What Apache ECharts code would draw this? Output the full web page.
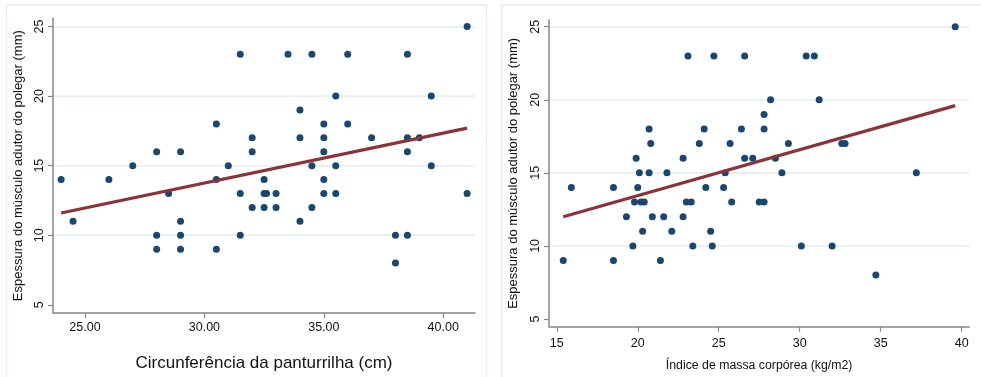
<!DOCTYPE html>
<html>
<head>
<meta charset="utf-8">
<script src="https://cdn.jsdelivr.net/npm/echarts@6/dist/echarts.min.js"></script>
<style>
    html, body { margin: 0; padding: 0; background: #fff; }
    #chart { width: 981px; height: 377px; }
</style>
</head>
<body>
<div id="chart"></div>
<script>
// circunferencia da panturrilha (cm) x espessura (mm)
var calfCirc = [24, 24.5, 26, 27, 28, 28, 28, 28.5, 29, 29, 29, 29, 30.5, 30.5, 30.5, 31, 31.5, 31.5, 31.5,
    32, 32, 32, 32.5, 32.5, 32.6, 32.5, 33, 33, 33.5, 34, 34, 34, 34.5, 34.5, 34.5, 35, 35, 35, 35, 35,
    35.5, 35.5, 35.5, 36, 36, 37, 38, 38, 38.5, 38.5, 38.5, 38.5, 39, 39.5, 39.5, 41, 41];
var calfThick = [14, 11, 14, 15, 16, 10, 9, 13, 16, 11, 10, 9, 18, 14, 9, 15, 23, 13, 10,
    17, 16, 12, 14, 13, 13, 12, 13, 12, 23, 19, 17, 11, 23, 15, 12, 18, 17, 16, 14, 13,
    20, 15, 13, 23, 18, 17, 10, 8, 23, 17, 16, 10, 17, 20, 15, 25, 13];
var calfFit = [[24, 11.6], [41, 17.7]];

// indice de massa corporea (kg/m2) x espessura (mm)
var bmiVal = [15.4, 15.9, 18.5, 18.5, 19.3, 19.7, 19.8, 19.9, 20.0, 20.1, 20.2, 20.4, 20.3, 20.7, 20.8,
    20.7, 20.9, 21.4, 21.6, 21.8, 22.1, 22.8, 22.8, 23.0, 23.3, 23.1, 23.4, 23.8, 24.1, 24.2, 24.5, 24.6,
    24.7, 25.3, 25.4, 25.7, 25.8, 26.4, 26.6, 26.6, 27.1, 27.5, 27.8, 27.8, 27.8, 28.2, 28.5, 28.9, 29.3,
    30.1, 30.4, 30.9, 31.2, 32.0, 32.6, 32.8, 34.7, 37.2, 39.6];
var bmiThick = [9, 14, 14, 9, 12, 10, 13, 16, 14, 15, 13, 13, 11, 18, 17,
    15, 12, 9, 12, 15, 11, 16, 12, 13, 13, 23, 10, 17, 18, 14, 11, 10,
    23, 14, 15, 17, 13, 18, 23, 16, 16, 13, 13, 19, 18, 20, 16, 15, 17,
    10, 23, 23, 20, 10, 17, 17, 8, 15, 25];
var bmiFit = [[15.4, 12.0], [39.6, 19.6]];

var yTicks = [5, 10, 15, 20, 25];
var calfTicks = [25, 30, 35, 40];
var bmiTicks = [15, 20, 25, 30, 35, 40];

var yName = 'Espessura do músculo adutor do polegar (mm)';
var calfName = 'Circunferência da panturrilha (cm)';
var bmiName = 'Índice de massa corpórea (kg/m2)';

var FONT = '"Liberation Sans", Arial, sans-serif';
var AXIS_COLOR = '#858585';
var GRID_COLOR = '#e3edef';
var DOT_COLOR = '#1a476f';
var FIT_COLOR = '#8a3338';

function zip(xs, ys) {
    var out = [];
    for (var i = 0; i < xs.length; ++i) {
        out.push([xs[i], ys[i]]);
    }
    return out;
}

function makeY(gridIndex, min, max, gap) {
    return {
        type: 'value',
        gridIndex: gridIndex,
        min: min,
        max: max,
        name: yName,
        nameLocation: 'middle',
        nameGap: gap,
        nameTextStyle: { fontFamily: FONT, fontSize: 13, color: '#111' },
        axisLine: { show: true, lineStyle: { color: AXIS_COLOR, width: 1.5 } },
        axisTick: { show: true, length: 5, customValues: yTicks, lineStyle: { color: AXIS_COLOR, width: 1.2 } },
        axisLabel: {
            customValues: yTicks, rotate: 90, margin: 7,
            fontFamily: FONT, fontSize: 12.5, color: '#111'
        },
        splitLine: {
            show: true,
            // no grid line at the bottom tick (5)
            lineStyle: { color: ['rgba(0,0,0,0)', GRID_COLOR, GRID_COLOR, GRID_COLOR, GRID_COLOR], width: 1.5 }
        }
    };
}

function makeX(gridIndex, min, max, ticks, name, nameSize, gap, margin, fmt) {
    return {
        type: 'value',
        gridIndex: gridIndex,
        min: min,
        max: max,
        name: name,
        nameLocation: 'middle',
        nameGap: gap,
        nameTextStyle: { fontFamily: FONT, fontSize: nameSize, color: '#111' },
        axisLine: { show: true, lineStyle: { color: AXIS_COLOR, width: 1.5 } },
        axisTick: { show: true, length: 5, customValues: ticks, lineStyle: { color: AXIS_COLOR, width: 1.2 } },
        axisLabel: {
            customValues: ticks, margin: margin,
            fontFamily: FONT, fontSize: 12.5, color: '#111',
            formatter: fmt
        },
        splitLine: { show: false }
    };
}

var chart = echarts.init(document.getElementById('chart'), null, { renderer: 'canvas' });

var option = {
    backgroundColor: '#ffffff',
    animation: false,
    graphic: [
        { type: 'rect', shape: { x: 6.5, y: 5, width: 480, height: 390 }, style: { fill: 'none', stroke: '#e6eef0', lineWidth: 1.5 }, silent: true },
        { type: 'rect', shape: { x: 501.5, y: 5, width: 490, height: 390 }, style: { fill: 'none', stroke: '#e6eef0', lineWidth: 1.5 }, silent: true }
    ],
    grid: [
        { left: 53, top: 18.3, width: 422, height: 303.4 },
        { left: 549, top: 20, width: 420.3, height: 306.7 }
    ],
    xAxis: [
        makeX(0, 23.66, 41.33, calfTicks, calfName, 17, 42, 8, function (v) { return v.toFixed(2); }),
        makeX(1, 14.52, 40.47, bmiTicks, bmiName, 12.3, 33, 10, function (v) { return String(v); })
    ],
    yAxis: [
        makeY(0, 4.41, 25.59, 28),
        makeY(1, 4.47, 25.46, 29)
    ],
    series: [
        {
            type: 'scatter', xAxisIndex: 0, yAxisIndex: 0,
            data: zip(calfCirc, calfThick),
            symbolSize: 7,
            itemStyle: { color: DOT_COLOR, opacity: 1 }
        },
        {
            type: 'line', xAxisIndex: 0, yAxisIndex: 0,
            data: calfFit, showSymbol: false, symbol: 'none',
            lineStyle: { color: FIT_COLOR, width: 3.2 }
        },
        {
            type: 'scatter', xAxisIndex: 1, yAxisIndex: 1,
            data: zip(bmiVal, bmiThick),
            symbolSize: 7,
            itemStyle: { color: DOT_COLOR, opacity: 1 }
        },
        {
            type: 'line', xAxisIndex: 1, yAxisIndex: 1,
            data: bmiFit, showSymbol: false, symbol: 'none',
            lineStyle: { color: FIT_COLOR, width: 3.2 }
        }
    ]
};

chart.setOption(option);
</script>
</body>
</html>
